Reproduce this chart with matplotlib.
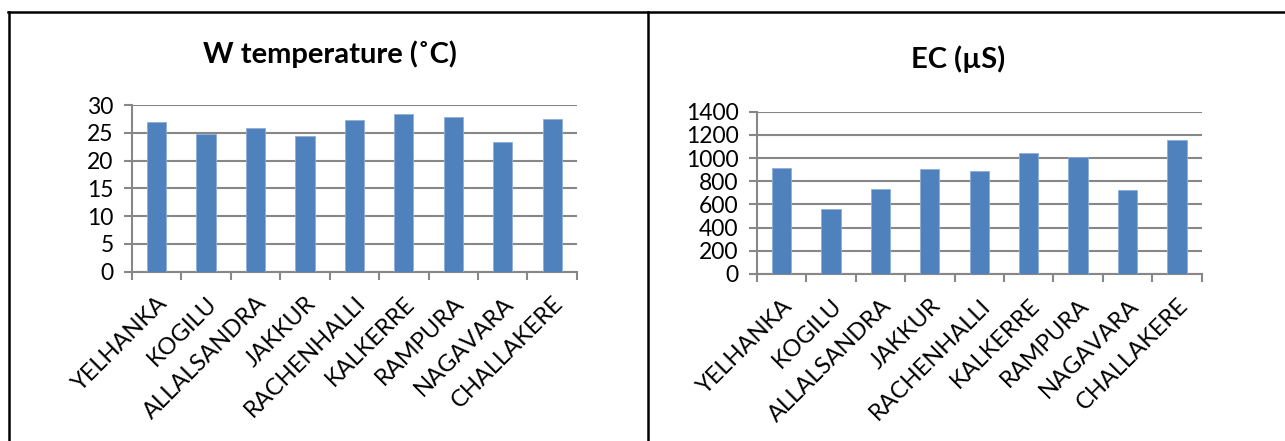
import numpy as np
import matplotlib.pyplot as plt
from matplotlib.lines import Line2D
from matplotlib.transforms import ScaledTranslation

plt.rcParams['font.family'] = ['Lato', 'DejaVu Sans']

# sampling stations
stations = ['YELHANKA', 'KOGILU', 'ALLALSANDRA', 'JAKKUR', 'RACHENHALLI',
            'KALKERRE', 'RAMPURA', 'NAGAVARA', 'CHALLAKERE']

# water temperature (deg C)
w_temp = [27.0, 24.8, 25.9, 24.4, 27.3, 28.4, 27.9, 23.3, 27.5]
temp_ticks = [0, 5, 10, 15, 20, 25, 30]

# electrical conductivity (uS)
ec = [911, 563, 736, 908, 891, 1046, 1006, 727, 1158]
ec_ticks = [0, 200, 400, 600, 800, 1000, 1200, 1400]

bar_color = '#4F81BD'
grid_color = '#878787'


def bar_panel(ax, values, yticks):
    x = np.arange(len(stations))
    ax.bar(x, values, width=0.39, color=bar_color, edgecolor='#8DAFD8',
           linewidth=0.6, zorder=3)
    ax.set_xlim(-0.5, len(stations) - 0.5)
    ax.set_ylim(yticks[0], yticks[-1])
    ax.set_yticks(yticks)
    ax.set_yticklabels([str(t) for t in yticks], fontsize=16.5)
    ax.yaxis.grid(True, color=grid_color, linewidth=1.5, zorder=0)
    ax.set_axisbelow(True)

    ax.set_xticks(x)
    ax.set_xticklabels(stations, rotation=45, ha='right', va='top',
                       rotation_mode='anchor', fontsize=17)
    # nudge the slanted names a little to the right of each bar
    shift = ScaledTranslation(5 / 100, 0, ax.figure.dpi_scale_trans)
    for lbl in ax.get_xticklabels():
        lbl.set_transform(lbl.get_transform() + shift)
    ax.set_xticks(np.arange(len(stations) + 1) - 0.5, minor=True)
    ax.tick_params(axis='x', which='major', length=0, pad=15)
    ax.tick_params(axis='x', which='minor', length=6, width=1.5,
                   color=grid_color, direction='out')
    ax.tick_params(axis='y', length=6, width=1.5, color=grid_color,
                   direction='out', pad=7)

    for side in ['top', 'right']:
        ax.spines[side].set_visible(False)
    for side in ['left', 'bottom']:
        ax.spines[side].set_color(grid_color)
        ax.spines[side].set_linewidth(1.5)


fig = plt.figure(figsize=(12.85, 4.41), dpi=100)

ax1 = fig.add_axes([0.1025, 0.3839, 0.3465, 0.378])
bar_panel(ax1, w_temp, temp_ticks)

ax2 = fig.add_axes([0.5889, 0.3787, 0.3463, 0.368])
bar_panel(ax2, ec, ec_ticks)

fig.text(330 / 1285, 1 - 54 / 441, 'W temperature (˚C)', ha='center',
         va='center', fontsize=21, fontweight='bold')
fig.text(958 / 1285, 1 - 59 / 441, 'EC (µS)', ha='center',
         va='center', fontsize=21, fontweight='bold')

# table borders around the two charts
fig.add_artist(Line2D([8 / 1285, 1], [1 - 11.5 / 441] * 2, color='black',
                      linewidth=1.8))
fig.add_artist(Line2D([9 / 1285] * 2, [0, 1 - 11.5 / 441], color='black',
                      linewidth=1.8))
fig.add_artist(Line2D([647.5 / 1285] * 2, [0, 1 - 11.5 / 441],
                      color='black', linewidth=1.8))

fig.savefig('out.png', dpi=100)
